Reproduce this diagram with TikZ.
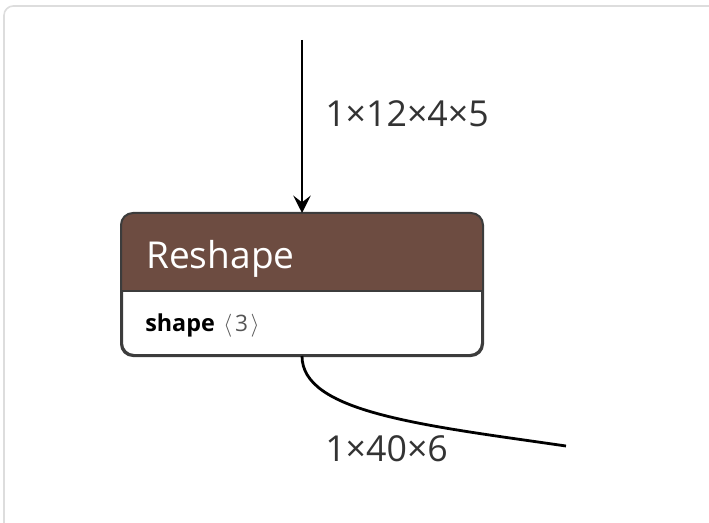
\documentclass[tikz,border=0pt]{standalone}
\usepackage{fontspec}
\setmainfont{Open Sans}
\usetikzlibrary{arrows.meta}
\definecolor{hdr}{HTML}{6D4C41}
\definecolor{bord}{HTML}{3C3C3C}
\definecolor{lbl}{HTML}{333333}
\definecolor{frm}{HTML}{DDDDDD}
\definecolor{attrv}{HTML}{555555}
\tikzset{
  edge/.style={line width=2.1pt, black},
  dimlabel/.style={inner sep=0pt, font=\fontsize{26.8}{30}\selectfont, text=lbl},
  opbox/.style={draw=bord, line width=1.5pt, rounded corners=9pt, fill=white,
    minimum width=270pt, minimum height=105.75pt, inner sep=0pt},
}
\begin{document}
\begin{tikzpicture}[x=0.75pt,y=-0.75pt]
\useasboundingbox (0,0) rectangle (709,523);
% frame
\draw[frm, line width=1.2pt, rounded corners=7pt] (4,523) -- (4,6) -- (709,6);
% box
\node[opbox] (box) at (302,284.5) {};
\begin{scope}
  \clip[rounded corners=9pt] (box.north west) rectangle (box.south east);
  \fill[hdr] (box.north west) rectangle ([yshift=-58.5pt]box.north east);
\end{scope}
\draw[bord, line width=1.5pt] ([yshift=-58.5pt]box.north west) -- ([yshift=-58.5pt]box.north east);
\draw[bord, line width=1.5pt, rounded corners=9pt] (box.north west) rectangle (box.south east);
\node[inner sep=0pt, anchor=base west, text=white, font=\fontsize{27.8}{30}\selectfont] (title) at (146,268.5) {Reshape};
\node[inner sep=0pt, anchor=base west, font=\fontsize{17.5}{20}\selectfont\bfseries] (attr) at (145,332) {shape};
\node[inner sep=0pt, anchor=base west, text=attrv, font=\fontsize{17}{20}\selectfont] (attrval) at ([xshift=6pt]attr.base east) {$\langle$\hspace{2pt}3\hspace{2pt}$\rangle$};
% edges
\coordinate (src) at (302,40);
\coordinate (dst) at (566,446);
\draw[edge, -{Stealth[length=13pt,width=13pt,inset=5pt]}] (src) -- (box.north);
\draw[edge] (box.south) .. controls (302,412) and (420,425) .. (dst);
\node[dimlabel, anchor=west] (l1) at (325,113.5) {1×12×4×5};
\node[dimlabel, anchor=west] (l2) at (325,449) {1×40×6};
\end{tikzpicture}
\end{document}
